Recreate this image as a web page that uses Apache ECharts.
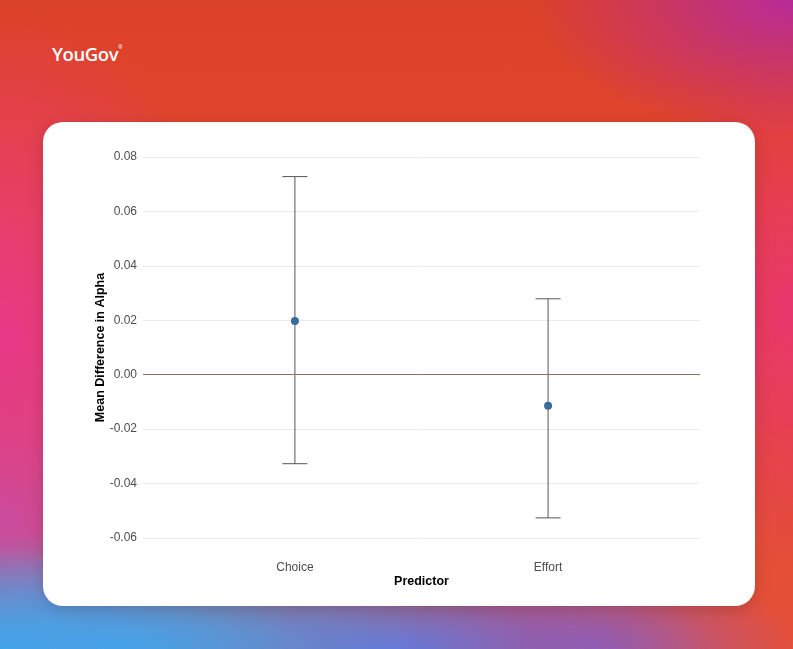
<!DOCTYPE html>
<html>
<head>
<meta charset="utf-8">
<script src="https://cdn.jsdelivr.net/npm/echarts@6/dist/echarts.min.js"></script>
<style>
  html, body { margin: 0; padding: 0; }
  body {
    width: 793px; height: 649px; overflow: hidden; position: relative;
    background:
      radial-gradient(ellipse 260px 140px at 100% 0%, #b82b98 0%, rgba(184,43,152,0) 100%),
      radial-gradient(ellipse 420px 120px at 15% 100%, #45a2ea 0%, rgba(69,162,234,0) 100%),
      radial-gradient(ellipse 300px 100px at 0% 100%, #3ea8ec 0%, rgba(62,168,236,0) 100%),
      radial-gradient(ellipse 320px 90px at 50% 100%, #7464d0 0%, rgba(116,100,208,0) 100%),
      radial-gradient(ellipse 200px 90px at 75% 100%, #a05aa8 0%, rgba(160,90,168,0) 100%),
      radial-gradient(ellipse 240px 330px at 0% 52%, #e8398a 0%, rgba(232,57,138,0) 100%),
      radial-gradient(ellipse 200px 200px at 0% 80%, #b05ab0 0%, rgba(176,90,176,0) 100%),
      radial-gradient(ellipse 160px 250px at 100% 48%, #e8366e 0%, rgba(232,54,110,0) 100%),
      linear-gradient(180deg, #dc4129 0%, #e5482e 40%, #e4503a 100%);
  }
  #logo {
    position: absolute; left: 52px; top: 41px;
    color: #fff; font-family: "Open Sans", sans-serif; font-weight: 600;
    font-size: 18.5px; letter-spacing: -0.4px;
  }
  #logo sup { font-size: 5px; vertical-align: top; position: relative; top: 3px; }
  #card {
    position: absolute; left: 43px; top: 122px; width: 712px; height: 484px;
    background: #fff; border-radius: 20px;
    box-shadow: 0 4px 16px rgba(0,0,0,0.15);
  }
  #report { position: absolute; left: 0; top: 0; width: 793px; height: 649px; }
</style>
</head>
<body>
<div id="logo">YouGov<sup>®</sup></div>
<div id="card"></div>
<div id="report"></div>
<script>
var categories = ['Choice', 'Effort'];
var means = [0.0197, -0.0114];
var lower = [-0.0327, -0.0526];
var upper = [0.0728, 0.0279];
var yTicks = [-0.06, -0.04, -0.02, 0.00, 0.02, 0.04, 0.06, 0.08];

var myChart = echarts.init(document.getElementById('report'));

var pointData = [];
var barData = [];
for (var i = 0; i < categories.length; i++) {
  pointData.push([i + 1, means[i]]);
  barData.push([i + 1, lower[i], upper[i]]);
}

var option = {
  animation: false,
  grid: { left: 143, right: 93, top: 157, bottom: 111 },
  xAxis: {
    type: 'value',
    min: 0.4,
    max: 2.6,
    interval: 0.2,
    name: 'Predictor',
    nameLocation: 'middle',
    nameGap: 37,
    nameMoveOverlap: false,
    nameTextStyle: { fontFamily: 'Liberation Sans', fontWeight: 'bold', fontSize: 12.5, color: '#000' },
    axisLine: { show: false },
    axisTick: { show: false },
    splitLine: { show: false },
    axisLabel: {
      margin: 24,
      fontFamily: 'Liberation Sans', fontSize: 12, color: '#4d4d4d',
      formatter: function (v) {
        for (var k = 0; k < categories.length; k++) {
          if (Math.abs(v - (k + 1)) < 1e-6) return categories[k];
        }
        return '';
      }
    }
  },
  yAxis: {
    type: 'value',
    min: yTicks[0],
    max: yTicks[yTicks.length - 1],
    interval: 0.02,
    name: 'Mean Difference in Alpha',
    nameLocation: 'middle',
    nameGap: 36,
    nameMoveOverlap: false,
    nameTextStyle: { fontFamily: 'Liberation Sans', fontWeight: 'bold', fontSize: 12.5, color: '#000' },
    axisLine: { show: false },
    axisTick: { show: false },
    splitLine: { lineStyle: { color: '#ebebeb', width: 1 } },
    axisLabel: {
      margin: 6,
      fontFamily: 'Liberation Sans', fontSize: 12, color: '#4d4d4d',
      formatter: function (v) { return v.toFixed(2); }
    }
  },
  series: [
    {
      type: 'custom',
      data: barData,
      z: 2,
      renderItem: function (params, api) {
        var x = api.value(0);
        var lo = api.coord([x, api.value(1)]);
        var hi = api.coord([x, api.value(2)]);
        var hw = 12.5;
        var st = { stroke: '#555', lineWidth: 1 };
        return {
          type: 'group',
          children: [
            { type: 'line', shape: { x1: lo[0], y1: lo[1], x2: hi[0], y2: hi[1] }, style: st },
            { type: 'line', shape: { x1: hi[0] - hw, y1: hi[1], x2: hi[0] + hw, y2: hi[1] }, style: st },
            { type: 'line', shape: { x1: lo[0] - hw, y1: lo[1], x2: lo[0] + hw, y2: lo[1] }, style: st }
          ]
        };
      }
    },
    {
      type: 'scatter',
      data: pointData,
      symbolSize: 8,
      z: 3,
      itemStyle: { color: '#3a6a9c', opacity: 1 },
      markLine: {
        silent: true,
        symbol: 'none',
        label: { show: false },
        lineStyle: { color: '#8f7066', width: 1, type: 'solid' },
        data: [{ yAxis: 0 }]
      }
    }
  ]
};
myChart.setOption(option);
</script>
</body>
</html>
